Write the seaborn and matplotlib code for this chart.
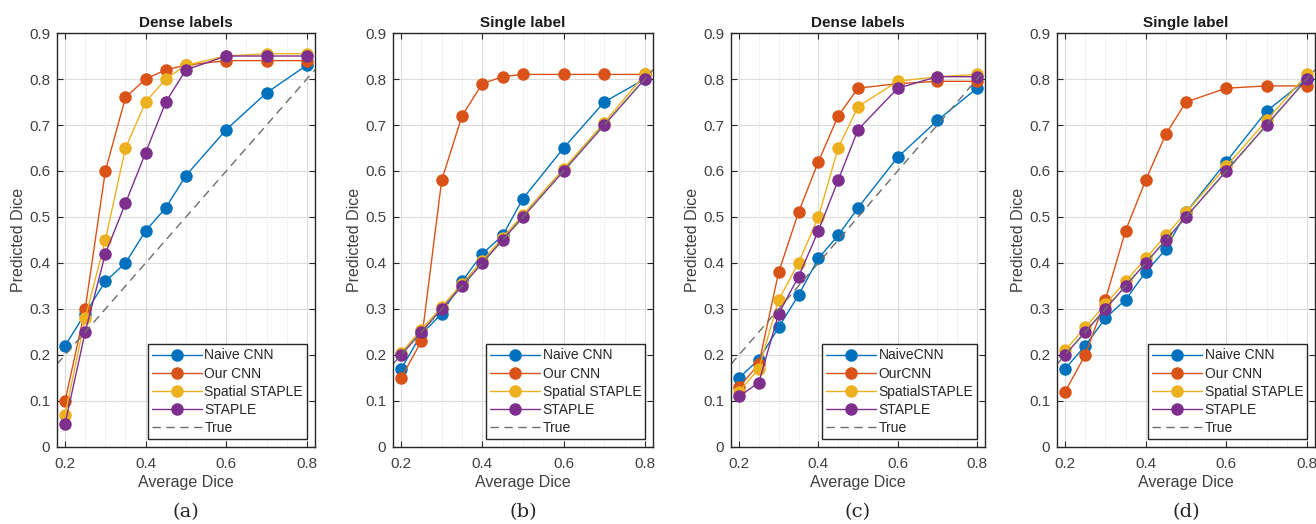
import numpy as np
import pandas as pd
import matplotlib.pyplot as plt
from matplotlib.ticker import MultipleLocator
import seaborn as sns

x = [0.2, 0.25, 0.3, 0.35, 0.4, 0.45, 0.5, 0.6, 0.7, 0.8]

# (a) dense labels
naive_a = [0.22, 0.29, 0.36, 0.40, 0.47, 0.52, 0.59, 0.69, 0.77, 0.83]
our_a = [0.10, 0.30, 0.60, 0.76, 0.80, 0.82, 0.83, 0.84, 0.84, 0.84]
spatial_a = [0.07, 0.28, 0.45, 0.65, 0.75, 0.80, 0.83, 0.85, 0.855, 0.855]
staple_a = [0.05, 0.25, 0.42, 0.53, 0.64, 0.75, 0.82, 0.85, 0.85, 0.85]

# (b) single label
naive_b = [0.17, 0.245, 0.29, 0.36, 0.42, 0.46, 0.54, 0.65, 0.75, 0.80]
our_b = [0.15, 0.23, 0.58, 0.72, 0.79, 0.805, 0.81, 0.81, 0.81, 0.81]
spatial_b = [0.205, 0.255, 0.305, 0.355, 0.405, 0.455, 0.505, 0.605, 0.705, 0.81]
staple_b = [0.20, 0.25, 0.30, 0.35, 0.40, 0.45, 0.50, 0.60, 0.70, 0.80]

# (c) dense labels
naive_c = [0.15, 0.19, 0.26, 0.33, 0.41, 0.46, 0.52, 0.63, 0.71, 0.78]
our_c = [0.13, 0.18, 0.38, 0.51, 0.62, 0.72, 0.78, 0.79, 0.795, 0.795]
spatial_c = [0.12, 0.17, 0.32, 0.40, 0.50, 0.65, 0.74, 0.795, 0.805, 0.81]
staple_c = [0.11, 0.14, 0.29, 0.37, 0.47, 0.58, 0.69, 0.78, 0.805, 0.805]

# (d) single label
naive_d = [0.17, 0.22, 0.28, 0.32, 0.38, 0.43, 0.51, 0.62, 0.73, 0.80]
our_d = [0.12, 0.20, 0.32, 0.47, 0.58, 0.68, 0.75, 0.78, 0.785, 0.785]
spatial_d = [0.21, 0.26, 0.31, 0.36, 0.41, 0.46, 0.51, 0.61, 0.71, 0.81]
staple_d = [0.20, 0.25, 0.30, 0.35, 0.40, 0.45, 0.50, 0.60, 0.70, 0.80]

titles = ['Dense labels', 'Single label', 'Dense labels', 'Single label']
captions = ['(a)', '(b)', '(c)', '(d)']
names_spaced = ['Naive CNN', 'Our CNN', 'Spatial STAPLE', 'STAPLE']
names_tight = ['NaiveCNN', 'OurCNN', 'SpatialSTAPLE', 'STAPLE']
colors = ['#0072BD', '#D95319', '#EDB120', '#7E2F8E']

panels = [
    (naive_a, our_a, spatial_a, staple_a, names_spaced),
    (naive_b, our_b, spatial_b, staple_b, names_spaced),
    (naive_c, our_c, spatial_c, staple_c, names_tight),
    (naive_d, our_d, spatial_d, staple_d, names_spaced),
]

sns.set_theme(style='white')
plt.rcParams['font.family'] = ['Liberation Sans', 'DejaVu Sans']

fig = plt.figure(figsize=(13.16, 5.24), dpi=100)
lefts = [0.0433, 0.2986, 0.5555, 0.8032]
widths = [0.196, 0.1976, 0.193, 0.196]
text_col = '#404040'

for i, (naive, our, spatial, staple, names) in enumerate(panels):
    ax = fig.add_axes([lefts[i], 0.147, widths[i], 0.790])
    rows = []
    for name, vals in zip(names, [naive, our, spatial, staple]):
        for xv, yv in zip(x, vals):
            rows.append({'Average Dice': xv, 'Predicted Dice': yv, 'method': name})
    df = pd.DataFrame(rows)
    sns.lineplot(data=df, x='Average Dice', y='Predicted Dice', hue='method',
                 hue_order=names, palette=colors, marker='o', markersize=9,
                 markeredgewidth=0, linewidth=1.0, ax=ax, sort=False)
    ax.plot([0.18, 0.82], [0.18, 0.82], ls=(0, (6, 4)), color='#6e6e6e',
            lw=1.0, label='True')

    ax.set_xlim(0.18, 0.82)
    ax.set_ylim(0, 0.9)
    ax.set_xticks([0.2, 0.4, 0.6, 0.8])
    ax.set_xticklabels(['0.2', '0.4', '0.6', '0.8'])
    ax.set_yticks(np.arange(0, 0.91, 0.1))
    ax.set_yticklabels(['0'] + [f'{v:.1f}' for v in np.arange(0.1, 0.91, 0.1)])
    ax.xaxis.set_minor_locator(MultipleLocator(0.05))
    ax.grid(True, which='major', color='#dcdcdc', lw=0.8)
    ax.grid(True, which='minor', axis='x', color='#dedede', lw=0.7, ls=':')
    ax.set_axisbelow(True)
    ax.tick_params(which='major', direction='in', length=4, width=0.8,
                   top=True, right=True, bottom=True, left=True,
                   labelsize=11, colors='#262626', labelcolor=text_col)
    ax.tick_params(axis='x', pad=7)
    ax.tick_params(axis='y', pad=5)
    ax.tick_params(which='minor', length=0)
    for s in ax.spines.values():
        s.set_color('#262626')
        s.set_linewidth(1.0)

    ax.set_title(titles[i], fontsize=11, fontweight='bold', pad=4, color='#1a1a1a')
    ax.set_xlabel('Average Dice', fontsize=11.5, color=text_col, labelpad=3)
    ax.set_ylabel('Predicted Dice', fontsize=11.5, color=text_col, labelpad=2)

    handles, labels = ax.get_legend_handles_labels()
    leg = ax.legend(handles, labels, loc='lower right', fontsize=10,
                    frameon=True, fancybox=False, framealpha=1,
                    edgecolor='#262626', borderpad=0.3, labelspacing=0.3,
                    handlelength=3.6, handletextpad=0.2, borderaxespad=0.55)
    leg.get_frame().set_linewidth(1.0)
    for t in leg.get_texts():
        t.set_color('#262626')

    fig.text(lefts[i] + widths[i] / 2, 0.022, captions[i], ha='center',
             va='center', fontsize=14, family='DejaVu Serif', color='#262626')

fig.savefig('out.png', dpi=100)
